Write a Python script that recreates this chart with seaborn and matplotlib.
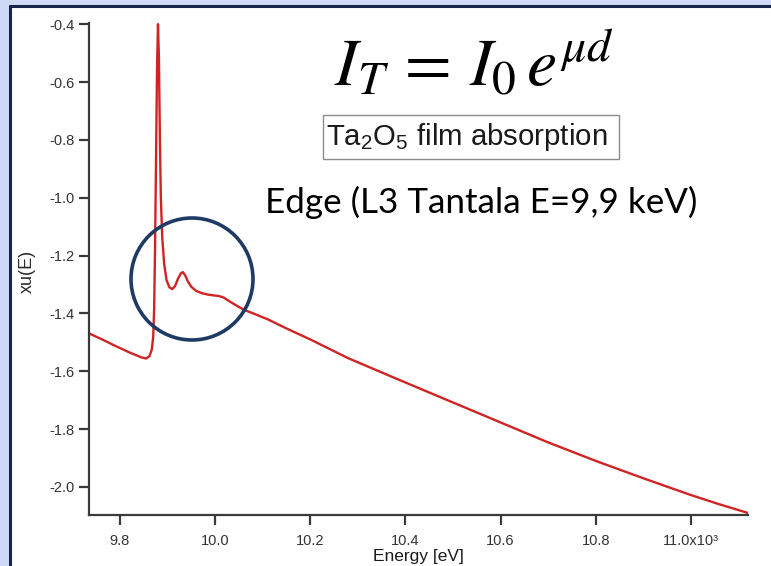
import matplotlib
matplotlib.use("Agg")
import matplotlib.pyplot as plt
import pandas as pd
import seaborn as sns
from matplotlib.patches import Rectangle, Ellipse
from matplotlib.lines import Line2D

# Ta2O5 film absorption spectrum around the Ta L3 edge
energy = [9735, 9760, 9790, 9820, 9845, 9855, 9862, 9867, 9870, 9872, 9874,
          9876, 9878, 9880, 9882, 9884, 9886, 9889, 9893, 9898, 9904, 9910,
          9916, 9922, 9928, 9932, 9937, 9943, 9950, 9960, 9972, 9985, 9998,
          10008, 10018, 10030, 10045, 10060, 10080, 10110, 10150, 10200,
          10280, 10380, 10500, 10600, 10700, 10800, 10900, 11000, 11060, 11120]
xu = [-1.469, -1.488, -1.512, -1.535, -1.552, -1.556, -1.548, -1.525, -1.48,
      -1.38, -1.15, -0.85, -0.55, -0.40, -0.52, -0.80, -1.00, -1.14, -1.23,
      -1.285, -1.31, -1.316, -1.305, -1.28, -1.262, -1.257, -1.268, -1.29,
      -1.308, -1.322, -1.330, -1.335, -1.338, -1.340, -1.345, -1.358, -1.373,
      -1.387, -1.400, -1.420, -1.452, -1.490, -1.555, -1.625, -1.708, -1.777,
      -1.846, -1.910, -1.970, -2.028, -2.060, -2.090]

xticks = [9800, 10000, 10200, 10400, 10600, 10800, 11000]
xtick_labels = ["9.8", "10.0", "10.2", "10.4", "10.6", "10.8", "11.0x10\u00b3"]
yticks = [-2.0, -1.8, -1.6, -1.4, -1.2, -1.0, -0.8, -0.6, -0.4]
ytick_labels = ["-2.0", "-1.8", "-1.6", "-1.4", "-1.2", "-1.0", "-0.8", "-0.6", "-0.4"]

sns.set_style("ticks")
plt.rcParams["font.family"] = ["Liberation Sans", "DejaVu Sans"]
plt.rcParams["mathtext.fontset"] = "custom"
plt.rcParams["mathtext.rm"] = "Liberation Sans"
plt.rcParams["mathtext.it"] = "Liberation Sans:italic"

W, H = 771, 566
fig = plt.figure(figsize=(W / 100, H / 100), dpi=100, facecolor="#cfdaf7")

# white slide panel with a dark navy frame on top and left
fig.patches.append(Rectangle((10 / W, 0), 1, 1 - 6 / H, transform=fig.transFigure,
                             facecolor="white", edgecolor="none", zorder=-2))
navy = "#17264a"
fig.add_artist(Line2D([10 / W, 10 / W], [0, 1 - 6 / H], transform=fig.transFigure,
                      color=navy, lw=2.2, zorder=-1))
fig.add_artist(Line2D([10 / W, 1], [1 - 6 / H, 1 - 6 / H], transform=fig.transFigure,
                      color=navy, lw=2.2, zorder=-1))

ax = fig.add_axes([89 / W, 1 - 515 / H, (748 - 89) / W, (515 - 23) / H])
ax.set_facecolor("none")

df = pd.DataFrame({"Energy": energy, "xu": xu})
sns.lineplot(data=df, x="Energy", y="xu", ax=ax, color="#d02424", lw=1.7)

ax.set_xlim(9735, 11120)
ax.set_ylim(-2.097, -0.396)
ax.set_xticks(xticks)
ax.set_xticklabels(xtick_labels)
ax.set_yticks(yticks)
ax.set_yticklabels(ytick_labels)

for side in ("top", "right"):
    ax.spines[side].set_visible(False)
for side in ("left", "bottom"):
    ax.spines[side].set_color("#3a3a3a")
    ax.spines[side].set_linewidth(1.6)
ax.tick_params(axis="both", direction="out", length=7.5, width=1.6, color="#3a3a3a",
               labelsize=10.5, labelcolor="#333333")
ax.tick_params(axis="x", pad=6)
ax.tick_params(axis="y", pad=3)

ax.set_xlabel("Energy [eV]", fontsize=12.5, color="#1a1a1a")
ax.xaxis.label.set_va("center")
ax.xaxis.set_label_coords(0.5, (515 - 557) / 492)
ax.set_ylabel("xu(E)", fontsize=13, color="#2a2a2a")
ax.yaxis.label.set_va("center")
ax.yaxis.set_label_coords((27 - 89) / 659, (515 - 271) / 492)

# Beer-Lambert law
fig.text(474 / W, 1 - 86 / H, r"$I_T\,=\,I_0\,e^{\mu d}$", fontsize=49,
         math_fontfamily="stix", ha="center", va="baseline", color="black")

# boxed sample label
fig.patches.append(Rectangle((323 / W, 1 - 159 / H), (619 - 323) / W, (159 - 115) / H,
                             transform=fig.transFigure, facecolor="white",
                             edgecolor="#8c8c8c", lw=1.0, zorder=2))
fig.text(467 / W, 1 - 137 / H, r"Ta$_2$O$_5$ film absorption", fontsize=21.2,
         ha="center", va="center", color="#1a1a1a", zorder=3)

fig.text(481 / W, 1 - 213 / H, "Edge (L3 Tantala E=9,9 keV)", fontsize=25.2,
         family=["Lato", "DejaVu Sans"], ha="center", va="baseline", color="black")

# highlight of the near-edge structure
fig.add_artist(Ellipse((192 / W, 1 - 279 / H), 122 / W, 122 / H,
                       transform=fig.transFigure, facecolor="none",
                       edgecolor="#1f3a63", lw=2.6, zorder=5))

fig.savefig("out.png", dpi=100, facecolor=fig.get_facecolor())
